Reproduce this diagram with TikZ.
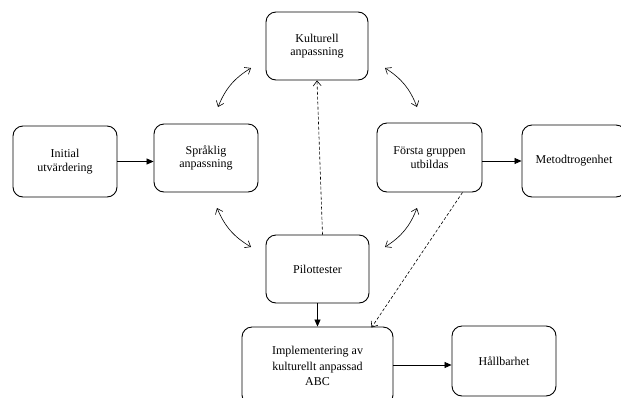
\documentclass[tikz,border=0pt]{standalone}
\usepackage{fontspec}
\setmainfont{Liberation Serif}
\usetikzlibrary{arrows.meta,calc}
\tikzset{
  box/.style={draw=black, line width=0.9pt, rounded corners=10pt, align=center, inner sep=2pt,
    font=\fontsize{12}{13.5}\selectfont},
  solidarrow/.style={draw=black, line width=0.7pt, -{Triangle[length=7pt,width=6pt]}},
  dasharrow/.style={draw=black, line width=0.6pt, dash pattern=on 3pt off 2pt, -{Straight Barb[length=5pt,width=8pt]}},
  twoway/.style={draw=black, line width=0.6pt, {Straight Barb[length=5pt,width=8pt]}-{Straight Barb[length=5pt,width=8pt]}}
}
\begin{document}
\begin{tikzpicture}[x=1pt,y=-1pt]
\useasboundingbox (0,0) rectangle (621,397);
\begin{scope}
\clip (0,0) rectangle (621,397);
\node[box, minimum width=104pt, minimum height=71pt] (init) at (65,161.5) {Initial\\utvärdering};
\node[box, minimum width=104pt, minimum height=68pt] (spr) at (206,158) {Språklig\\anpassning};
\node[box, minimum width=102pt, minimum height=68pt] (kult) at (317,46) {Kulturell\\anpassning};
\node[box, minimum width=105pt, minimum height=69pt] (forsta) at (429.5,157.5) {Första gruppen\\utbildas};
\node[box, minimum width=104pt, minimum height=72pt] (metod) at (574,161) {Metodtrogenhet};
\node[box, minimum width=103pt, minimum height=68pt] (pilot) at (317.5,269) {Pilottester};
\node[box, minimum width=151pt, minimum height=78pt, font=\fontsize{12}{15.5}\selectfont] (impl) at (317.5,366) {Implementering av\\kulturellt anpassad\\ABC};
\node[box, minimum width=104pt, minimum height=70pt] (hall) at (504,361) {Hållbarhet};

\draw[solidarrow] (init.east) -- (init.east -| spr.west);
\draw[solidarrow] (metod.west -| forsta.east) -- (metod.west);
\draw[solidarrow] (pilot.south) -- (impl.north);
\draw[solidarrow] ($(impl.east)+(0,-1)$) -- ($(impl.east -| hall.west)+(0,-1)$);

\draw[dasharrow] ($(pilot.north)+(5,0)$) -- (kult.south);
\draw[dasharrow] ($(forsta.south)+(33,0)$) -- ($(impl.north)+(54,1)$);

\coordinate (tl1) at (218,107);
\coordinate (tl2) at (251,68);
\coordinate (tr1) at (385,68);
\coordinate (tr2) at (417,107);
\coordinate (bl1) at (217,208);
\coordinate (bl2) at (251,247);
\coordinate (br1) at (417,208);
\coordinate (br2) at (385,247);
\draw[twoway] (tl1) to[bend left=18] (tl2);
\draw[twoway] (tr1) to[bend left=18] (tr2);
\draw[twoway] (bl1) to[bend right=18] (bl2);
\draw[twoway] (br1) to[bend left=18] (br2);
\end{scope}
\end{tikzpicture}
\end{document}
